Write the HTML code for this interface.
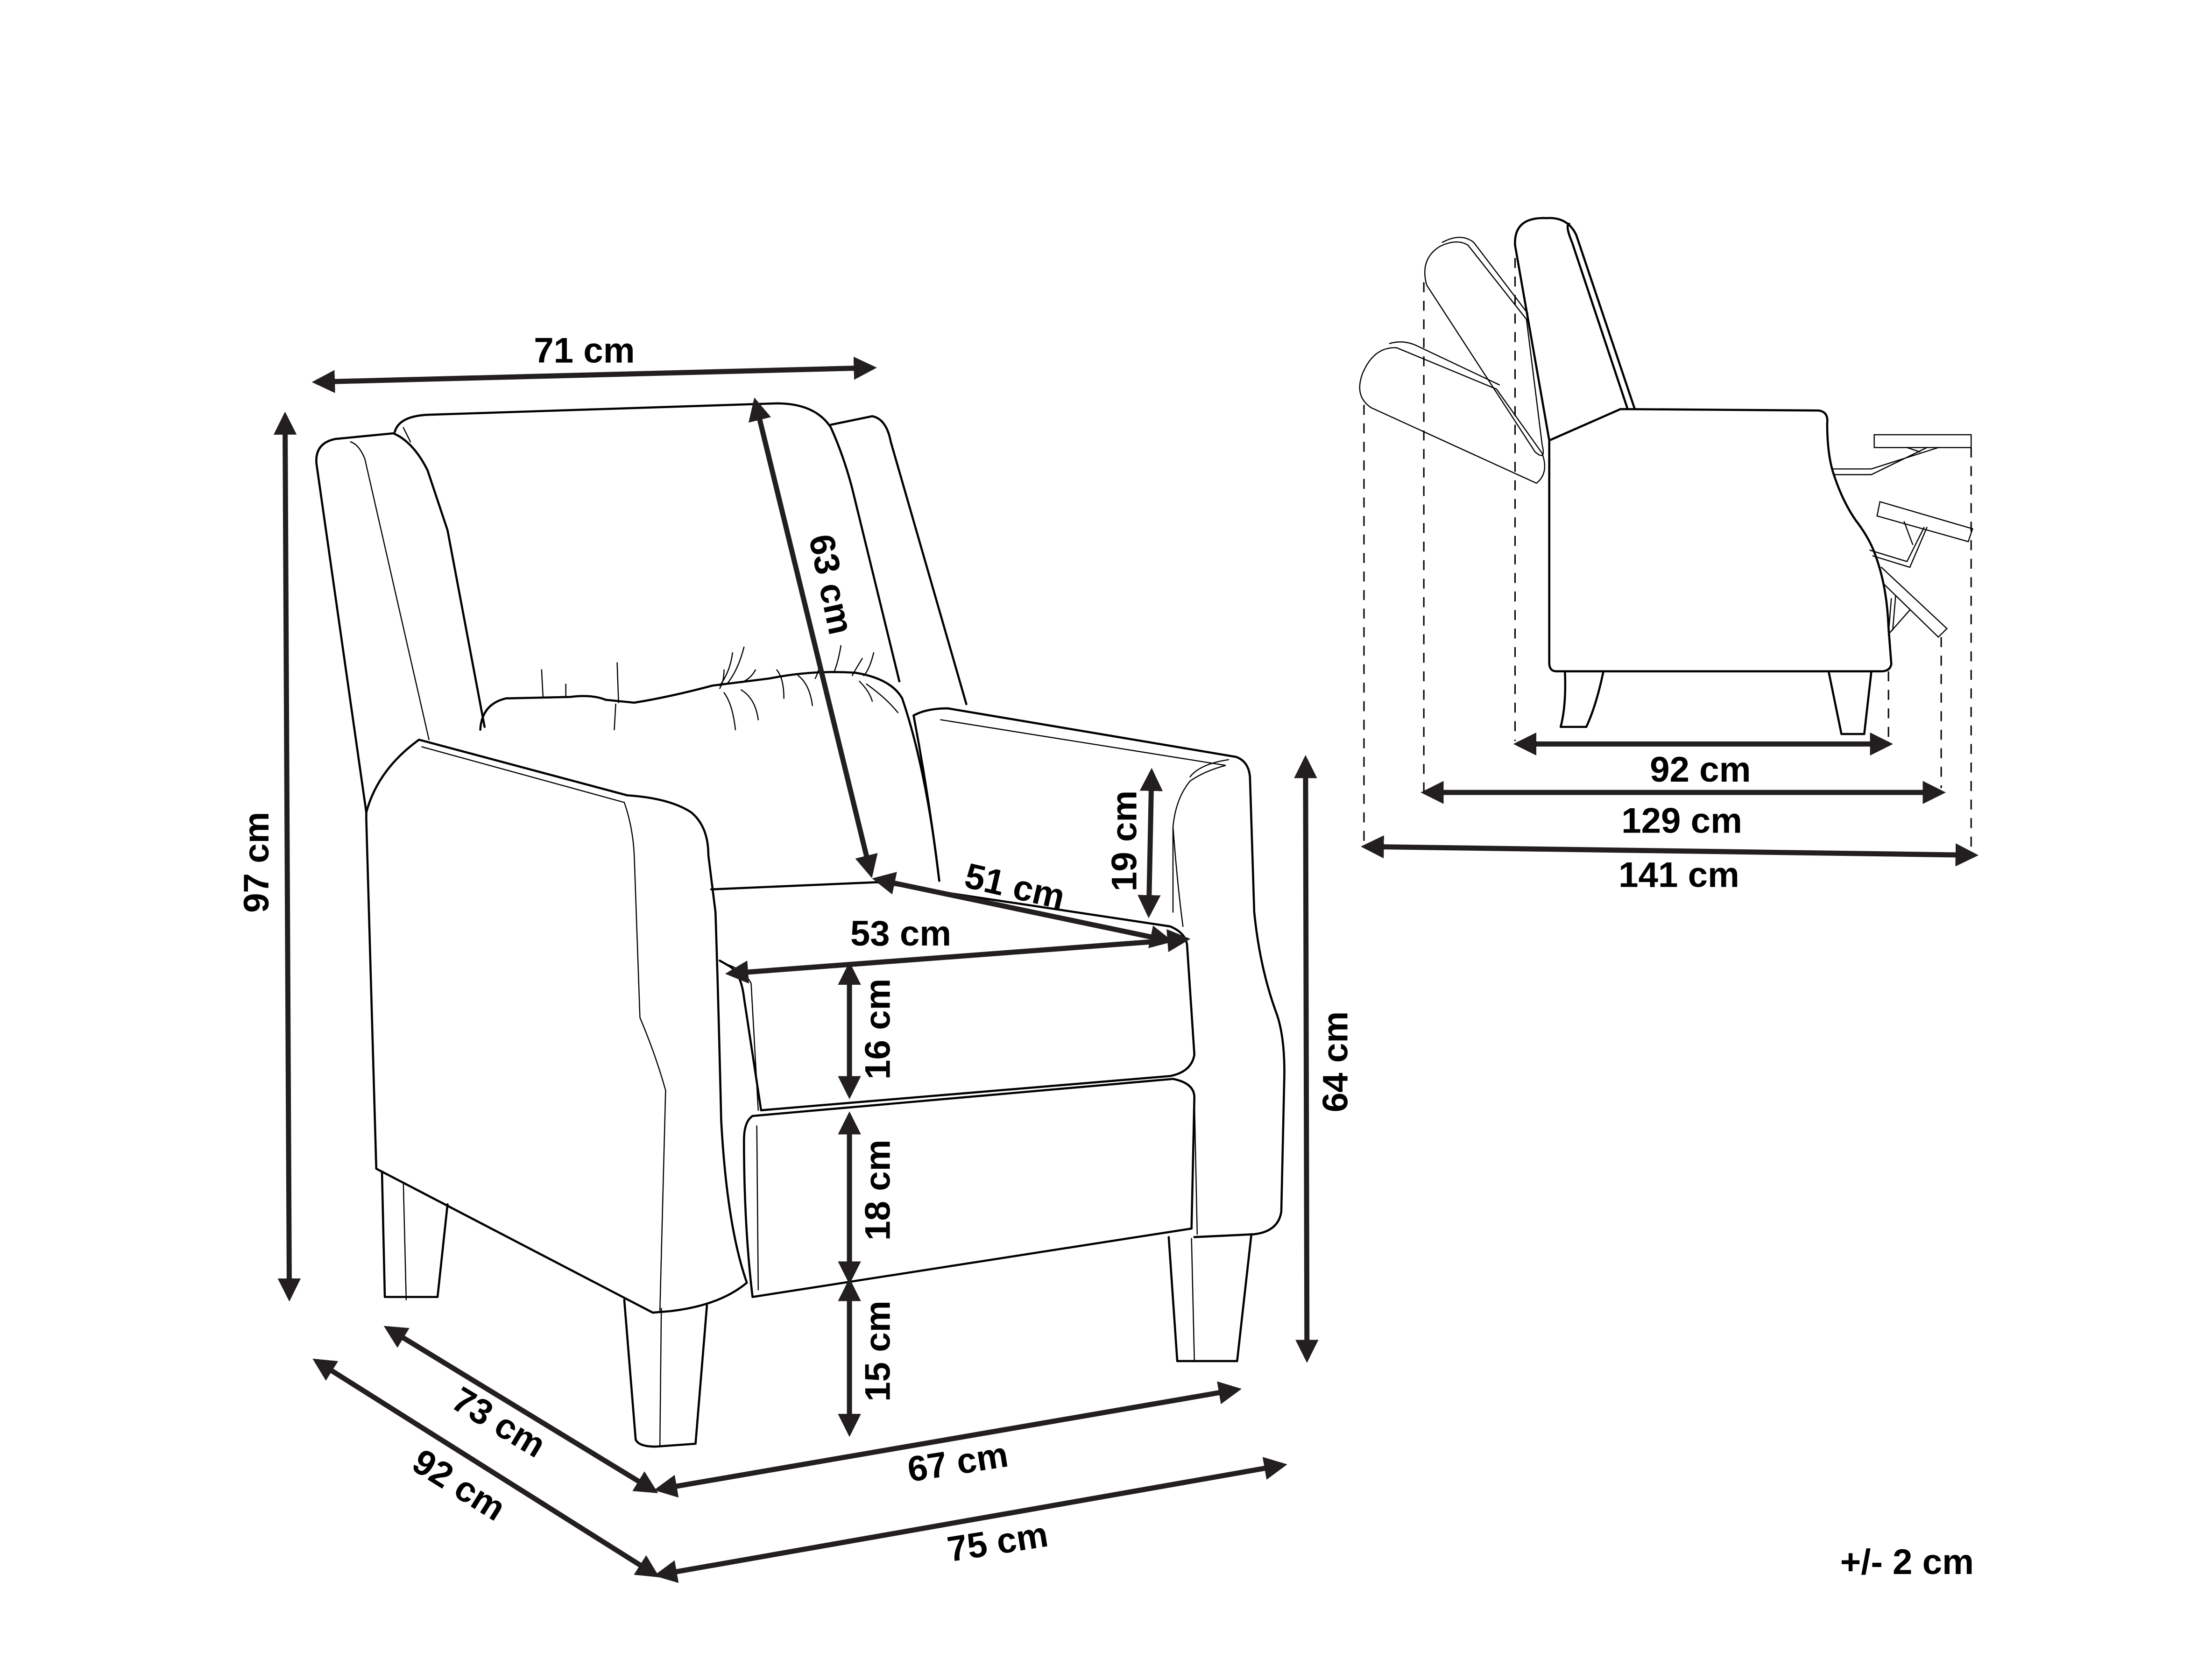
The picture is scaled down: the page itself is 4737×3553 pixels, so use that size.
<!DOCTYPE html>
<html><head><meta charset="utf-8"><style>
html,body{margin:0;padding:0;background:#fff}
svg{display:block}
text{font-family:"Liberation Sans",sans-serif;font-weight:bold;font-size:25px;fill:#000;text-anchor:middle;dominant-baseline:central}
.o{fill:none;stroke:#000;stroke-width:1.5;stroke-linejoin:round;stroke-linecap:round}
.t{fill:none;stroke:#000;stroke-width:0.8;stroke-linecap:round}
.d{fill:none;stroke:#000;stroke-width:1;stroke-dasharray:7 6}
.a{fill:none;stroke:#231f20;stroke-width:3.6;marker-start:url(#ah);marker-end:url(#ah)}
</style></head><body>
<svg width="4737" height="3553" viewBox="0 0 1552 1164" xmlns="http://www.w3.org/2000/svg">
<defs>
<marker id="ah" viewBox="0 0 10 10" refX="8" refY="5" markerWidth="4.5" markerHeight="5" orient="auto-start-reverse" markerUnits="strokeWidth">
<path d="M0,0 L10,5 L0,10 Z" fill="#231f20"/>
</marker>
</defs>

<!-- MAIN CHAIR -->
<!-- left wing -->
<path class="o" d="M257,570 L222,325 Q221,311 235,308 L276,304 Q290,310 300,330 Q310,360 314,372 L340,510"/>
<path class="t" d="M246,310 Q252,312 256,322 L301,519"/>
<!-- back -->
<path class="o" d="M277,303 Q280,292 300,291 L545,283 Q572,283 583,300 Q592,320 598,343 L631,478"/>
<path class="t" d="M283,300 L288,310"/>
<!-- right wing -->
<path class="o" d="M583,298 L612,292 Q622,294 625,310 L678,494"/>
<!-- lumbar -->
<path class="o" d="M337,512 Q338,494 355,490 L400,489 Q415,487 425,491 L445,493 Q470,489 500,481 L540,476 Q570,470 600,472 Q625,476 633,490 Q650,540 659,618"/>
<path class="t" d="M380,470 L381,489 M397,480 L397,489 M433,465 L434,493 M432,494 L431,512 M508,470 Q508,478 505,483 M514,458 Q512,472 505,481 M522,454 Q518,470 510,480 M530,470 Q527,476 520,479 M520,484 Q530,490 532,505 M508,486 Q514,494 516,512 M545,470 Q550,476 550,490 M560,474 Q568,480 570,495 M575,465 Q575,470 572,476 M590,453 Q588,465 585,472 M605,462 Q600,470 598,474 M613,458 Q610,470 606,474 M608,480 Q622,490 630,500 M603,478 Q610,485 612,492"/>
<!-- left arm -->
<path class="o" d="M257,570 Q265,540 294,519 L440,558 Q470,560 485,570 Q497,580 497,600 L502,640 Q504,700 506,786 Q510,860 524,900 Q505,916 470,920 L458,921 L264,820 L257,575 Z"/>
<path class="t" d="M296,524 L438,563 M438,563 Q444,580 445,600 L449,714 Q460,740 467,765 L463,920"/>
<!-- left legs -->
<path class="o" d="M268,822 L270,910 L307,910 L314,845"/>
<path class="t" d="M285,912 L283,830"/>
<path class="o" d="M438,912 L446,1010 Q448,1015 460,1015 L488,1013 L496,916"/>
<path class="t" d="M463,1014 L464,918"/>
<!-- seat -->
<path class="o" d="M499,624 L615,619 L821,650 Q833,655 833,665 L838,740 Q836,752 821,755 L534,779 Q528,740 522,700 Q520,683 512,678 L505,674"/>
<path class="t" d="M508,676 Q522,680 527,690 L532,779"/>
<!-- lower front panel -->
<path class="o" d="M528,783 L823,757 Q838,760 838,770 L836,862 L528,910 Q522,860 522,800 Q522,787 528,783 Z"/>
<path class="t" d="M531,790 L532,905"/>
<!-- right arm -->
<path class="o" d="M641,502 Q650,497 665,497 L867,531 Q876,534 877,545 L880,640 Q884,680 896,712 Q902,730 901,760 L899,850 Q897,864 880,866 L838,868"/>
<path class="o" d="M641,502 Q652,560 659,618"/>
<path class="t" d="M660,505 L860,537 Q845,541 835,548 Q825,560 823,580 L823,640 M862,533 Q842,536 835,545 M823,580 Q826,620 830,650"/>
<path class="t" d="M838,770 L840,866"/>
<!-- right leg -->
<path class="o" d="M820,868 L826,955 L868,955 L878,866"/>
<path class="t" d="M838,955 L836,869"/>

<!-- main chair dimension arrows -->
<line class="a" x1="222" y1="268" x2="612" y2="258"/>
<text x="410" y="246">71 cm</text>
<line class="a" x1="200" y1="292" x2="203" y2="910"/>
<text transform="translate(180,605) rotate(-90)">97 cm</text>
<line class="a" x1="530" y1="282" x2="611" y2="613"/>
<text transform="translate(583,410) rotate(78)">63 cm</text>
<line class="a" x1="615" y1="617" x2="820" y2="660"/>
<text transform="translate(712,622) rotate(13)">51 cm</text>
<line class="a" x1="512" y1="683" x2="832" y2="659"/>
<text x="632" y="655">53 cm</text>
<line class="a" x1="808" y1="542" x2="806" y2="641"/>
<text transform="translate(789,590) rotate(-90)">19 cm</text>
<line class="a" x1="596" y1="678" x2="596" y2="768"/>
<text transform="translate(616,722) rotate(-90)">16 cm</text>
<line class="a" x1="596" y1="783" x2="596" y2="898"/>
<text transform="translate(616,835) rotate(-90)">18 cm</text>
<line class="a" x1="596" y1="900" x2="596" y2="1005"/>
<text transform="translate(616,948) rotate(-90)">15 cm</text>
<line class="a" x1="916" y1="533" x2="917" y2="953"/>
<text transform="translate(937,745) rotate(-90)">64 cm</text>
<line class="a" x1="272" y1="932" x2="459" y2="1046"/>
<text transform="translate(350,998) rotate(31)">73 cm</text>
<line class="a" x1="222" y1="955" x2="460" y2="1105"/>
<text transform="translate(322,1042) rotate(32)">92 cm</text>
<line class="a" x1="462" y1="1045" x2="868" y2="975"/>
<text transform="translate(672,1026) rotate(-9)">67 cm</text>
<line class="a" x1="462" y1="1105" x2="900" y2="1028"/>
<text transform="translate(700,1082) rotate(-9)">75 cm</text>

<text x="1338" y="1096">+/- 2 cm</text>

<!-- SIDE VIEW -->
<line class="d" x1="957" y1="284" x2="957" y2="592"/>
<line class="d" x1="999" y1="198" x2="999" y2="556"/>
<line class="d" x1="1063" y1="181" x2="1063" y2="520"/>
<line class="d" x1="1325" y1="471" x2="1325" y2="520"/>
<line class="d" x1="1362" y1="447" x2="1362" y2="553"/>
<line class="d" x1="1383" y1="314" x2="1383" y2="596"/>

<!-- ghost back 2 (lowest) -->
<path class="t" d="M962,286 Q950,278 956,262 Q964,243 980,244 L1050,273 L1082,318 Q1087,332 1078,339 Z"/>
<path class="t" d="M975,241 Q985,238 995,243 L1052,270"/>
<!-- ghost back 1 -->
<path class="t" d="M1001,200 Q996,182 1010,173 Q1022,167 1030,172 L1071,224 M1001,200 L1077,317 Q1085,324 1082,312 L1071,224"/>
<path class="t" d="M1012,170 Q1025,163 1034,170 L1072,220"/>

<!-- main back -->
<path class="o" d="M1087,309 L1063,172 Q1062,152 1085,153 Q1100,152 1106,165 L1147,287"/>
<path class="o" d="M1101,157 Q1098,158 1103,170 L1142,287"/>
<!-- body -->
<path class="o" d="M1087,309 L1137,287 L1276,288 Q1283,289 1282,297 Q1282,320 1287,334 Q1293,352 1302,365 Q1312,378 1316,390 Q1324,412 1325,440 L1327,466 Q1326,471 1320,471 L1092,471 Q1087,471 1087,465 Z"/>
<!-- legs -->
<path class="o" d="M1098,471 Q1099,495 1095,510 L1113,510 Q1120,495 1125,471"/>
<path class="o" d="M1283,471 L1292,515 L1308,515 L1313,471"/>
<!-- footrest & linkage -->
<rect class="t" x="1315" y="305" width="68" height="9"/>
<path class="t" d="M1286,329 L1313,329 L1360,314 M1287,333 L1313,333 L1352,314 M1338,314 L1347,317"/>
<path class="t" d="M1319,352 L1384,371 L1381,380 L1317,362 Z"/>
<path class="t" d="M1312,386 L1338,394 L1350,370 M1314,390 L1340,398 L1352,370 M1336,366 L1342,382"/>
<path class="t" d="M1320,398 L1366,441 L1360,447 L1322,410"/>
<path class="t" d="M1327,420 L1325,445 L1340,428 M1330,418 L1328,442"/>

<line class="a" x1="1065" y1="522" x2="1325" y2="522"/>
<text x="1193" y="540">92 cm</text>
<line class="a" x1="1000" y1="556" x2="1362" y2="556"/>
<text x="1180" y="576">129 cm</text>
<line class="a" x1="958" y1="594" x2="1385" y2="600"/>
<text x="1178" y="614">141 cm</text>
</svg>
</body></html>
